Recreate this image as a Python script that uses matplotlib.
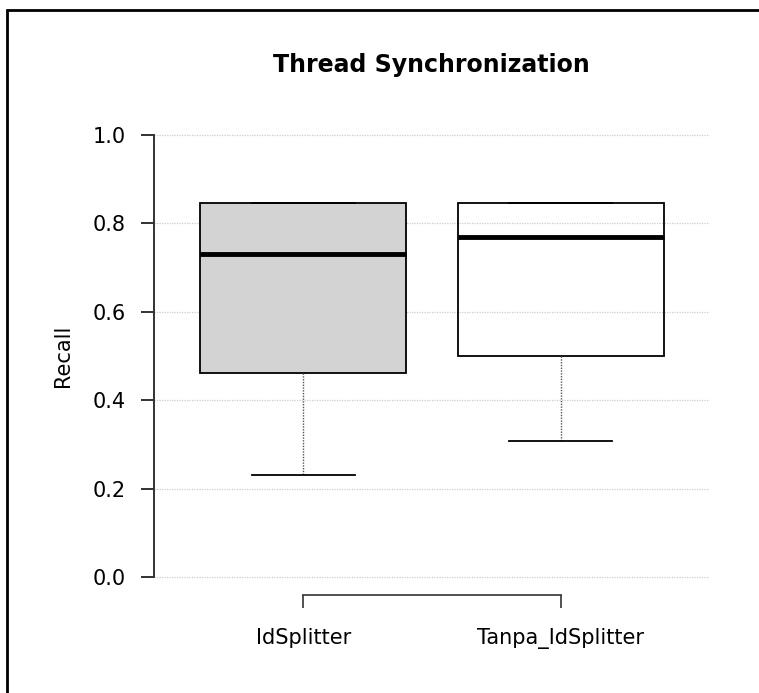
import matplotlib
matplotlib.use("Agg")
import matplotlib.pyplot as plt
from matplotlib.patches import Rectangle

# data
labels = ["IdSplitter", "Tanpa_IdSplitter"]
whislo = [0.2308, 0.3077]
q1 = [0.4615, 0.5000]
med = [0.7308, 0.7692]
q3 = [0.8462, 0.8462]
whishi = [0.8462, 0.8462]
fills = ["lightgray", "none"]

stats = []
for i in range(len(labels)):
    stats.append({"label": labels[i], "whislo": whislo[i], "q1": q1[i],
                  "med": med[i], "q3": q3[i], "whishi": whishi[i], "fliers": []})

fig = plt.figure(figsize=(7.59, 6.93), dpi=100)
ax = fig.add_axes([0.2029, 0.1674, 0.7312, 0.6378])

bp = ax.bxp(stats, positions=[1, 2], widths=0.8, patch_artist=True,
            showfliers=False,
            boxprops=dict(edgecolor="black", linewidth=1.3),
            medianprops=dict(color="black", linewidth=3.5),
            whiskerprops=dict(color="#555555", linewidth=1, linestyle=(0, (1, 1))),
            capprops=dict(color="black", linewidth=1.3),
            capwidths=0.4, zorder=3)
for patch, c in zip(bp["boxes"], fills):
    patch.set_facecolor(c)

ax.set_xlim(0.42, 2.576)
ax.set_ylim(0, 1)
ax.set_yticks([0, 0.2, 0.4, 0.6, 0.8, 1.0])
ax.set_yticklabels(["0.0", "0.2", "0.4", "0.6", "0.8", "1.0"])
ax.yaxis.grid(True, color="#cccccc", linestyle=(0, (1, 1)), linewidth=0.9)
for gl in ax.get_ygridlines():
    gl.set_clip_on(False)
ax.set_axisbelow(True)

for s in ["top", "right"]:
    ax.spines[s].set_visible(False)
ax.spines["left"].set_bounds(0, 1)
ax.spines["left"].set_color("#333333")
ax.spines["left"].set_linewidth(1.4)
ax.spines["bottom"].set_bounds(1, 2)
ax.spines["bottom"].set_position(("outward", 13))
ax.spines["bottom"].set_color("#333333")
ax.spines["bottom"].set_linewidth(1.2)
ax.tick_params(axis="y", length=9.5, width=1.4, color="#333333", labelsize=15, pad=11)
ax.tick_params(axis="x", length=9, width=1.2, color="#333333", labelsize=15, pad=15)

ax.set_ylabel("Recall", fontsize=15, labelpad=14)
ax.set_title("Thread Synchronization", fontsize=17, fontweight="bold", pad=45)

# outer frame like the original device border
fig.patches.append(Rectangle((7 / 759, -0.2), 1.2, (693 - 10) / 693 + 0.2,
                             transform=fig.transFigure, fill=False,
                             edgecolor="black", linewidth=2))

plt.savefig("out.png", dpi=100)
